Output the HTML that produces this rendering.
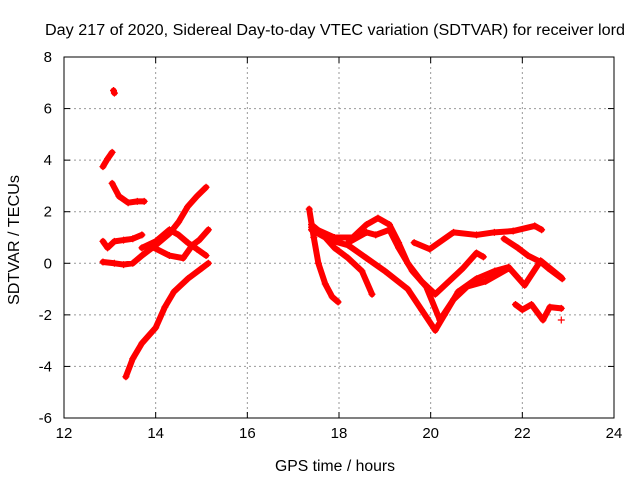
<!DOCTYPE html>
<html><head><meta charset="utf-8"><style>
body{margin:0;background:#fff;}
svg{display:block;font-family:"Liberation Sans",sans-serif;}
</style></head><body>
<svg id="chart" width="640" height="480">
<rect width="640" height="480" fill="#fff"/>
<text x="45" y="35" font-size="15.5" textLength="580" lengthAdjust="spacingAndGlyphs">Day 217 of 2020, Sidereal Day-to-day VTEC variation (SDTVAR) for receiver lord</text>
<text x="275" y="471" font-size="15.5" textLength="120" lengthAdjust="spacingAndGlyphs">GPS time / hours</text>
<text transform="translate(19,305) rotate(-90)" font-size="15.5" textLength="130" lengthAdjust="spacingAndGlyphs">SDTVAR / TECUs</text>
<g id="grid"></g><g id="ticks"></g><g id="marks"></g>
<rect x="64" y="57" width="550" height="361" fill="none" stroke="#000" stroke-width="1"/>
</svg>
<script>
const xTicks=[12,14,16,18,20,22,24];
const yTicks=[-6,-4,-2,0,2,4,6,8];
const sOutlier=[[13.08,6.7],[13.1,6.6]];
const sB=[[12.85,3.75],[12.95,4.05],[13.05,4.3]];
const sC=[[13.05,3.1],[13.2,2.6],[13.4,2.35],[13.6,2.4],[13.75,2.4]];
const sD=[[12.85,0.85],[12.95,0.6],[13.1,0.85],[13.3,0.9],[13.5,0.95],[13.7,1.1]];
const sE=[[12.85,0.05],[13.1,0],[13.3,-0.05],[13.5,0],[13.7,0.3],[14.0,0.7],[14.3,1.15],[14.5,1.6],[14.7,2.2],[14.9,2.6],[15.1,2.95]];
const sF1=[[13.7,0.6],[14.0,0.85],[14.3,1.3],[14.5,1.1],[14.7,0.8],[14.9,0.55],[15.1,0.3]];
const sF2=[[13.85,0.7],[14.3,0.3],[14.6,0.2],[14.8,0.7],[14.95,0.9],[15.15,1.3]];
const sG=[[13.35,-4.4],[13.5,-3.7],[13.7,-3.1],[14.0,-2.5],[14.2,-1.7],[14.4,-1.1],[14.7,-0.6],[15.0,-0.2],[15.15,0]];
const sH=[[17.35,2.1],[17.45,1.0],[17.55,0],[17.7,-0.8],[17.85,-1.3],[17.98,-1.5]];
const sI=[[17.4,1.3],[17.7,1.0],[17.9,0.6],[18.2,0.2],[18.5,-0.3],[18.72,-1.2]];
const sJ=[[17.4,1.5],[17.8,0.9],[18.2,0.7],[18.6,0.2],[19.0,-0.3],[19.5,-1.0],[19.8,-1.8],[20.1,-2.6],[20.3,-2.0],[20.6,-1.1],[21.0,-0.6],[21.4,-0.3],[21.7,-0.15],[22.05,-0.85],[22.4,0.1],[22.85,-0.55]];
const sK=[[17.4,1.4],[17.9,1.0],[18.3,1.0],[18.6,1.5],[18.85,1.75],[19.1,1.5],[19.3,0.8],[19.5,0],[19.8,-0.7],[20.1,-1.2],[20.4,-0.7],[20.7,-0.2],[21.0,0.4],[21.15,0.25]];
const sL=[[18.2,0.8],[18.6,1.2],[18.8,1.1],[19.1,1.3],[19.3,0.6],[19.6,-0.3],[19.9,-0.9],[20.2,-2.2],[20.5,-1.4],[20.8,-0.9],[21.2,-0.7],[21.7,-0.2]];
const sM=[[19.64,0.8],[19.98,0.55],[20.5,1.2],[21.0,1.1],[21.39,1.2],[21.8,1.25],[22.27,1.45],[22.42,1.3]];
const sM2=[[21.6,0.95],[21.9,0.6],[22.12,0.3],[22.4,0.05],[22.57,-0.2],[22.87,-0.6]];
const sN=[[21.85,-1.6],[22.0,-1.8],[22.2,-1.6],[22.45,-2.2],[22.6,-1.7],[22.85,-1.75]];
const sN2=[[22.85,-2.2]];
const allSeries=[sOutlier,sB,sC,sD,sE,sF1,sF2,sG,sH,sI,sJ,sK,sL,sM,sM2,sN,sN2];
const X=h=>64+(h-12)*550/12;
const Y=v=>418-(v+6)*361/14;
const NS="http://www.w3.org/2000/svg";
function mk(tag,attrs,parent){const e=document.createElementNS(NS,tag);for(const k in attrs)e.setAttribute(k,attrs[k]);parent.appendChild(e);return e;}
const grid=document.getElementById('grid'),ticks=document.getElementById('ticks'),marks=document.getElementById('marks');
xTicks.forEach(t=>{const x=X(t);
 if(t>12&&t<24){const g=mk('line',{x1:x,x2:x,y1:57,y2:418,stroke:'#999','stroke-dasharray':'2,3'},grid);
 
 }
 mk('line',{x1:x,x2:x,y1:418,y2:412,stroke:'#000'},ticks);mk('line',{x1:x,x2:x,y1:57,y2:63,stroke:'#000'},ticks);
 const l=mk('text',{x:x,y:438,'font-size':15,'text-anchor':'middle'},ticks);l.textContent=t;
 
 });
yTicks.forEach(t=>{const y=Y(t);
 if(t>-6&&t<8){const g=mk('line',{x1:64,x2:614,y1:y,y2:y,stroke:'#999','stroke-dasharray':'2,3'},grid);
 
 }
 mk('line',{x1:64,x2:70,y1:y,y2:y,stroke:'#000'},ticks);mk('line',{x1:608,x2:614,y1:y,y2:y,stroke:'#000'},ticks);
 const l=mk('text',{x:52,y:y+5,'font-size':15,'text-anchor':'end'},ticks);l.textContent=t;
 
 });
allSeries.forEach((s,i)=>{
 if(s.length>1){const p=mk('polyline',{points:s.map(d=>X(d[0])+','+Y(d[1])).join(' '),fill:'none',stroke:'#f00','stroke-width':6,'stroke-linejoin':'round','stroke-linecap':'round'},marks);
 
 }
 s.forEach(d=>{const x=X(d[0]),y=Y(d[1]);
  const m=mk('path',{d:`M${x-3.5},${y}h7M${x},${y-3.5}v7`,stroke:'#f00','stroke-width':1.2},marks);
  
  });
});
</script>
</body></html>
